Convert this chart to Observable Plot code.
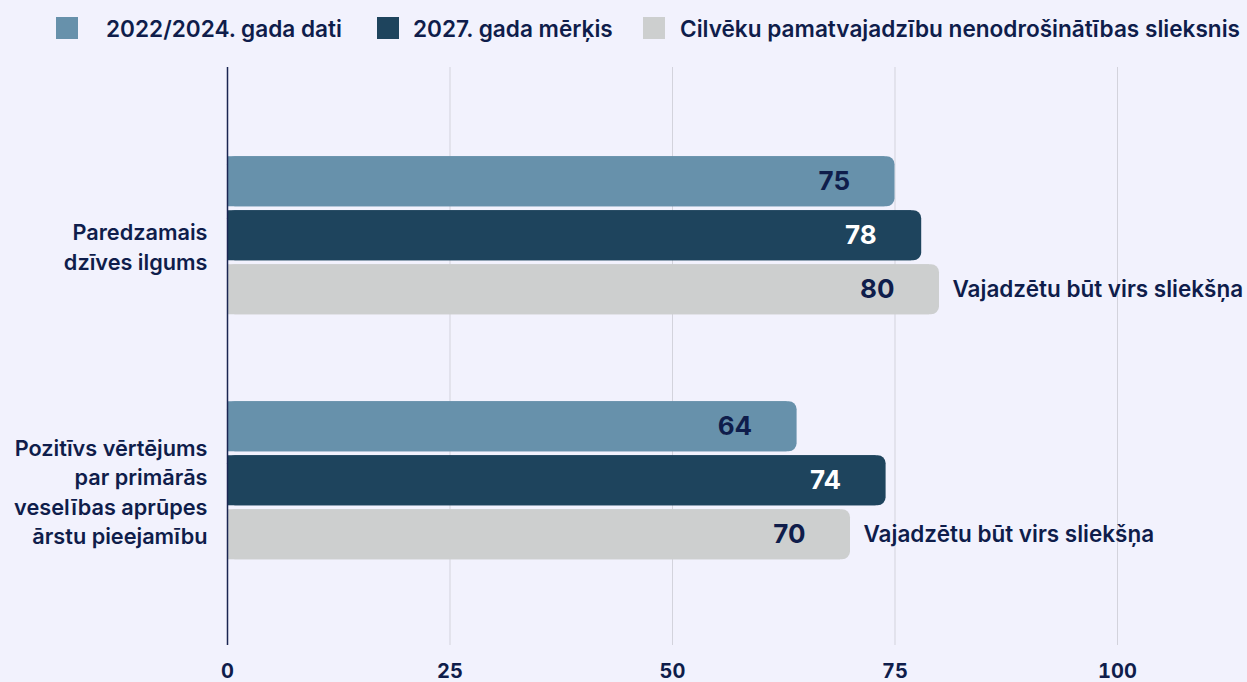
<!DOCTYPE html>
<html>
<head>
<meta charset="utf-8">
<script src="https://cdn.jsdelivr.net/npm/d3@7"></script>
<script src="https://cdn.jsdelivr.net/npm/@observablehq/plot@0.6"></script>
<style>
  html, body { margin: 0; padding: 0; background: #f2f2fd; }
  #wrap { position: relative; width: 1247px; height: 682px; overflow: hidden; font-family: Inter, "Noto Sans", sans-serif; }
  #legend { position: absolute; top: 16px; left: 0; height: 24px; }
  .item { position: absolute; top: -1px; display: flex; align-items: center; white-space: nowrap; color: #0f1d4b; font-size: 22.6px; font-weight: 600; }
  .sw { width: 22px; height: 22px; display: inline-block; }
  #chart { position: absolute; top: 0; left: 0; }
</style>
</head>
<body>
<div id="wrap">
  <div id="legend"></div>
  <div id="chart"></div>
</div>
<script>
const categories = ["Paredzamais\ndzīves ilgums", "Pozitīvs vērtējums\npar primārās\nveselības aprūpes\nārstu pieejamību"];
const seriesNames = ["2022/2024. gada dati", "2027. gada mērķis", "Cilvēku pamatvajadzību nenodrošinātības slieksnis"];
const actualValues = [75, 64];
const targetValues = [78, 74];
const thresholdValues = [80, 70];
const annotationText = "Vajadzētu būt virs sliekšņa";
const xTicks = [0, 25, 50, 75, 100];

const colors = ["#6791ab", "#1e445d", "#cdcfcf"];
const labelColors = ["#0f1d4b", "#ffffff", "#0f1d4b"];
const navy = "#0f1d4b";

const seriesValues = [actualValues, targetValues, thresholdValues];
const rows = [];
seriesValues.forEach((vals, s) => vals.forEach((v, c) => rows.push({category: categories[c], series: s, value: v})));

// legend
const legendPos = [[56, 106], [377, 413], [643, 680]];
const legend = document.getElementById("legend");
seriesNames.forEach((name, i) => {
  const sw = document.createElement("span");
  sw.className = "sw";
  sw.style.background = colors[i];
  sw.style.position = "absolute";
  sw.style.left = legendPos[i][0] + "px";
  sw.style.top = "1px";
  legend.appendChild(sw);
  const t = document.createElement("span");
  t.className = "item";
  t.style.left = legendPos[i][1] + "px";
  t.textContent = name;
  legend.appendChild(t);
});

const sub = 54;
const marks = [
  Plot.ruleX(xTicks.slice(1), {stroke: "#d3d3dc", strokeWidth: 1})
];
[0, 1, 2].forEach(s => {
  const data = rows.filter(d => d.series === s);
  const insetTop = s * sub, insetBottom = (2 - s) * sub;
  marks.push(Plot.barX(data, {x: "value", y: "category", fill: colors[s], insetTop, insetBottom, insetRight: 10}));
  marks.push(Plot.barX(data, {x: "value", y: "category", fill: colors[s], insetTop, insetBottom, rx: 8}));
  marks.push(Plot.text(data, {x: "value", y: "category", text: d => String(d.value), dy: (s - 1) * sub, dx: -45,
    textAnchor: "end", fill: labelColors[s], fontSize: 26, fontWeight: 700}));
});
marks.push(Plot.text(rows.filter(d => d.series === 2), {x: "value", y: "category", text: () => annotationText,
  dy: sub, dx: 13, textAnchor: "start", fill: navy, fontSize: 22.5, fontWeight: 600}));
marks.push(Plot.text(categories, {x: 0, y: d => d, text: d => d, dx: -20, dy: 10, textAnchor: "end",
  lineHeight: 1.36, fill: navy, fontSize: 21.7, fontWeight: 600}));
marks.push(Plot.ruleX([0], {stroke: "#1a2552", strokeWidth: 1.5}));

const chart = Plot.plot({
  width: 1247,
  height: 682,
  marginLeft: 227,
  marginRight: 130,
  marginTop: 67,
  marginBottom: 37,
  style: {background: "transparent", fontFamily: "Inter, 'Noto Sans', sans-serif", fontSize: "20px", fontWeight: 700, color: navy, overflow: "visible"},
  x: {domain: [0, 100], ticks: xTicks, tickSize: 0, tickPadding: 18, label: null, tickFormat: d => String(d)},
  y: {domain: categories, axis: null, paddingInner: 0.355, paddingOuter: 0.357, align: 0.51, round: false},
  marks
});
document.getElementById("chart").appendChild(chart);
</script>
</body>
</html>
